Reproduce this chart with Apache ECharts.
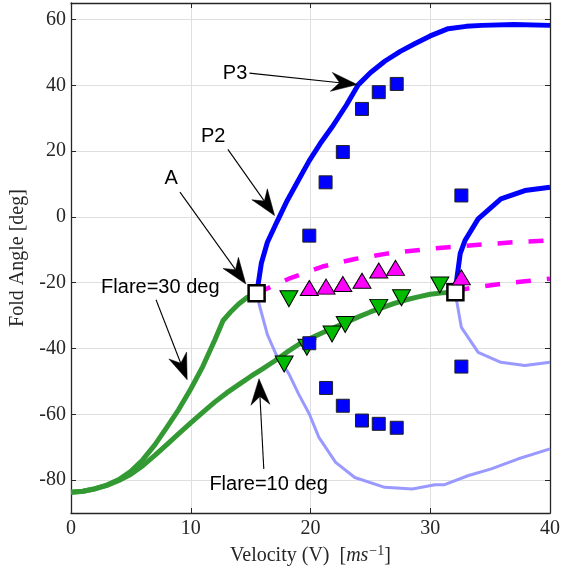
<!DOCTYPE html>
<html><head><meta charset="utf-8">
<script src="https://cdn.jsdelivr.net/npm/echarts@6/dist/echarts.min.js"></script>
<style>html,body{margin:0;padding:0;background:#fff}#c{width:563px;height:575px}</style>
</head><body><div id="c"></div>
<script>
// ---- tick labels ----
const xTicks = [0, 10, 20, 30, 40];
const yTicks = [-80, -60, -40, -20, 0, 20, 40, 60];

// ---- curves [velocity, fold angle] ----
const flare30Curve = [[0,-83.7],[1,-83.4],[2,-82.6],[3,-81.5],[4,-79.8],[5,-77.3],[6,-73.8],[7,-69.3],[8,-64],[9,-58.5],[10,-52.3],[11,-45.5],[12,-37.5],[12.7,-31.5],[13.3,-29],[14,-26.5],[14.7,-24.5],[15.5,-23.2]];
const flare10Curve = [[0,-83.7],[1,-83.4],[2,-82.7],[3,-81.6],[4,-80.1],[5,-78.2],[6,-75.6],[7,-72.5],[8,-69.2],[9,-65.9],[10,-62.6],[11,-59.4],[12,-56.3],[13,-53.5],[14,-51],[15,-48.5],[16,-46.2],[17,-43.8],[18,-41.2],[19,-38.8],[20,-36.9],[21,-35.2],[22,-33.6],[23,-32],[24,-30.4],[25,-28.9],[26,-27.6],[27,-26.3],[28,-25.2],[29,-24.3],[30,-23.5],[31,-23.1],[32,-22.9]];
const p3Curve = [[15.5,-23.2],[15.65,-20],[15.9,-14],[16.4,-7.7],[17.2,-1.5],[18.06,5],[19,11.2],[19.9,17.1],[20.8,22.2],[21.8,27.3],[23,34],[24,40.2],[25,43.8],[26.2,47.3],[27.5,50.3],[28.7,52.6],[30,55],[31.5,57.2],[33,57.9],[34.3,58.2],[37,58.5],[40,58.2]];
const upperRightCurve = [[32.06,-22.9],[32.2,-19.4],[32.5,-11.2],[32.9,-7.2],[34,-0.6],[35.9,5.5],[37.9,8],[40,9]];
const unstableLowerA = [[15.5,-23.2],[15.7,-26.4],[16.4,-35.8],[17.1,-41.6],[18.2,-47.7],[19,-53.8],[19.9,-59.9],[20.7,-67],[22.1,-74.6],[23.7,-79.2],[26.2,-82.2],[28.5,-82.7],[30.4,-81.4],[31.2,-81.4],[33.2,-78.6],[35.1,-76.6],[37.3,-73.6],[40,-70.5]];
const unstableLowerB = [[32.06,-22.9],[32.2,-25.4],[32.6,-33.6],[34,-41.2],[35.9,-44.2],[37.9,-45.2],[40,-44.2]];
const dashedUpper = [[15.5,-23.2],[16.3,-21.9],[18.2,-18.8],[21,-15.1],[23.7,-12.8],[26.5,-11.1],[28.7,-10.2],[31.5,-9.2],[34.3,-8.4],[37,-7.7],[40,-7.2]];
const dashedLower = [[32.06,-22.9],[32.9,-21.9],[35.4,-20.6],[37.9,-19.6],[40,-18.8]];

// ---- measured points ----
const blueSquares = [[21.26,10.5],[22.7,19.7],[24.3,32.8],[25.7,37.9],[27.2,40.4],[19.9,-5.7],[19.9,-38.4],[21.3,-52],[22.7,-57.4],[24.3,-61.9],[25.7,-62.9],[27.2,-64.1],[32.6,6.5],[32.6,-45.5]];
const magentaUp = [[19.9,-21.6],[21.3,-21.2],[22.7,-20.4],[24.3,-19.4],[25.7,-16.3],[27.1,-15.5],[32.6,-18.4]];
const greenDown = [[18.2,-24.9],[17.8,-44.7],[19.7,-39.6],[21.8,-35.6],[22.9,-32.7],[25.7,-27.5],[27.6,-24.6],[30.8,-20.7]];
const bifurcationPts = [[15.5,-23.2],[32.1,-22.9]];

// ---- annotations: [textX, textY, tailX, tailY, tipX, tipY] ----
const annotLabels = ['P3', 'P2', 'A', 'Flare=30 deg', 'Flare=10 deg'];
const annotPos = [
  [13.7, 43.5, 14.9, 43.7, 23.9, 40.2],
  [11.87, 24.5, 13.1, 20.5, 17.0, 0.4],
  [8.37, 11.7, 9.1, 7.5, 14.6, -20.4],
  [7.46, -21.4, 7.1, -25.2, 9.7, -49.5],
  [16.5, -81.2, 16.1, -76.6, 15.7, -49.2]
];

const axisColor = '#262626';
const serif = 'Liberation Serif';
const chart = echarts.init(document.getElementById('c'), null, {renderer: 'canvas'});

function lineSeries(data, color, width, type) {
  return {type: 'line', data: data, showSymbol: false, symbol: 'none', smooth: false,
    lineStyle: {color: color, width: width, type: type || 'solid', cap: 'butt', opacity: 1}, silent: true, z: 2};
}

const option = {
  animation: false,
  backgroundColor: '#fff',
  grid: {left: 71, right: 11, top: 3, bottom: 62, containLabel: false},
  xAxis: [{
    type: 'value', min: 0, max: 40, interval: 10, position: 'bottom',
    axisLine: {show: true, onZero: false, lineStyle: {color: axisColor, width: 1.3}},
    axisTick: {show: true, inside: true, length: 5, lineStyle: {color: axisColor, width: 1}},
    axisLabel: {color: axisColor, fontFamily: serif, fontSize: 20, margin: 6},
    splitLine: {show: true, lineStyle: {color: '#dfdfdf', width: 1}},
    name: '{n|Velocity (V)  [}{i|ms}{s|−1}{n|]}',
    nameLocation: 'middle', nameGap: 28,
    nameTextStyle: {
      rich: {
        n: {fontFamily: serif, fontSize: 20, color: axisColor},
        i: {fontFamily: serif, fontSize: 20, fontStyle: 'italic', color: axisColor},
        s: {fontFamily: serif, fontSize: 14, color: axisColor, verticalAlign: 'top', padding: [0, 0, 10, 1]}
      }
    }
  }, {
    type: 'value', min: 0, max: 40, interval: 10, position: 'top',
    axisLine: {show: true, onZero: false, lineStyle: {color: axisColor, width: 1.3}},
    axisTick: {show: true, inside: true, length: 5, lineStyle: {color: axisColor, width: 1}},
    axisLabel: {show: false}, splitLine: {show: false}
  }],
  yAxis: [{
    type: 'value', min: -90, max: 65, position: 'left',
    axisLine: {show: true, onZero: false, lineStyle: {color: axisColor, width: 1.3}},
    axisTick: {show: true, inside: true, length: 5, customValues: yTicks, lineStyle: {color: axisColor, width: 1}},
    axisLabel: {color: axisColor, fontFamily: serif, fontSize: 20, margin: 5, customValues: yTicks},
    splitLine: {show: true, lineStyle: {color: '#dfdfdf', width: 1}},
    name: 'Fold Angle [deg]', nameLocation: 'middle', nameGap: 43,
    nameTextStyle: {fontFamily: serif, fontSize: 20, color: axisColor}
  }, {
    type: 'value', min: -90, max: 65, position: 'right',
    axisLine: {show: true, onZero: false, lineStyle: {color: axisColor, width: 1.3}},
    axisTick: {show: true, inside: true, length: 5, customValues: yTicks, lineStyle: {color: axisColor, width: 1}},
    axisLabel: {show: false}, splitLine: {show: false}
  }],
  series: [
    lineSeries(flare30Curve, '#339933', 5),
    lineSeries(flare10Curve, '#339933', 5),
    lineSeries(unstableLowerA, '#9999ff', 3),
    lineSeries(unstableLowerB, '#9999ff', 3),
    lineSeries(p3Curve, '#0000ff', 5),
    lineSeries(upperRightCurve, '#0000ff', 5),
    lineSeries(dashedUpper, '#ff00ff', 4.5, [15, 16]),
    lineSeries(dashedLower, '#ff00ff', 4.5, [15, 16]),
    {type: 'scatter', data: bifurcationPts, symbol: 'rect', symbolSize: 16, z: 3,
      itemStyle: {color: '#ffffff', borderColor: '#000', borderWidth: 2.5, opacity: 1}},
    {type: 'scatter', data: greenDown, symbol: 'triangle', symbolRotate: 180, symbolSize: [18, 16], z: 4,
      itemStyle: {color: '#00bb00', borderColor: '#000', borderWidth: 1, opacity: 1}},
    {type: 'scatter', data: blueSquares, symbol: 'rect', symbolSize: 13, z: 5,
      itemStyle: {color: '#0000ff', borderColor: '#222', borderWidth: 1, opacity: 1}},
    {type: 'scatter', data: magentaUp, symbol: 'triangle', symbolSize: [18, 15], z: 6,
      itemStyle: {color: '#ff00ff', borderColor: '#000', borderWidth: 1, opacity: 1}},
    {
      type: 'custom', z: 10, clip: false, silent: true,
      data: annotPos,
      encode: {x: [0, 2, 4], y: [1, 3, 5]},
      renderItem: function (params, api) {
        const t = api.coord([api.value(0), api.value(1)]);
        const a = api.coord([api.value(2), api.value(3)]);
        const b = api.coord([api.value(4), api.value(5)]);
        const dx = b[0] - a[0], dy = b[1] - a[1];
        const len = Math.hypot(dx, dy);
        const ux = dx / len, uy = dy / len, nx = -uy, ny = ux;
        const L = 26, W = 9.5, N = 0.68 * L;
        const p1 = [b[0] - L * ux + W * nx, b[1] - L * uy + W * ny];
        const p2 = [b[0] - N * ux, b[1] - N * uy];
        const p3 = [b[0] - L * ux - W * nx, b[1] - L * uy - W * ny];
        return {
          type: 'group',
          children: [
            {type: 'line', shape: {x1: a[0], y1: a[1], x2: p2[0], y2: p2[1]}, style: {stroke: '#000', lineWidth: 1.1}},
            {type: 'polygon', shape: {points: [b, p1, p2, p3]}, style: {fill: '#000', stroke: '#000', lineWidth: 0.5}},
            {type: 'text', x: t[0], y: t[1], style: {text: annotLabels[params.dataIndex], fill: '#000',
              fontFamily: 'Liberation Sans', fontSize: 20, align: 'center', verticalAlign: 'middle'}}
          ]
        };
      }
    }
  ]
};
chart.setOption(option);
</script>
</body></html>
